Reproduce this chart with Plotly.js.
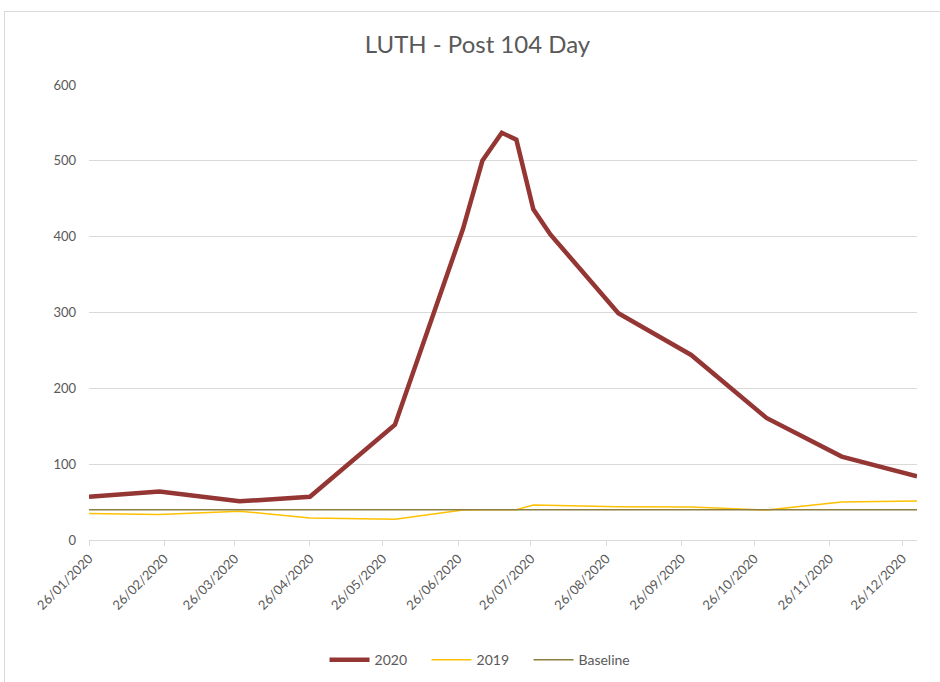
<!DOCTYPE html>
<html>
<head>
<meta charset="utf-8">
<script src="https://cdn.plot.ly/plotly-3.0.1.min.js"></script>
<style>
  html, body { margin: 0; padding: 0; background: #fff; }
  #chart { width: 940px; height: 682px; position: absolute; left: 0; top: 0; }
  #frame { position: absolute; left: 4px; top: 11px; width: 940px; height: 680px; border: 1px solid #D9D9D9; pointer-events: none; }
</style>
</head>
<body>
<div id="chart"></div>
<div id="frame"></div>
<script>
const dates = ['2020-01-26','2020-02-24','2020-03-28','2020-04-26','2020-05-31','2020-06-28','2020-07-06','2020-07-14','2020-07-20','2020-07-27','2020-08-03','2020-08-31','2020-09-30','2020-10-31','2020-12-01','2021-01-01'];
const values2020 = [57, 64, 51, 57, 152, 410, 500, 537, 528, 436, 403, 299, 244, 161, 110, 84];
const values2019 = [35, 33.5, 38, 29, 27.5, 39.5, 40, 40, 40, 46, 45.5, 44, 43.5, 39.5, 50, 51.5];
const baselineValues = [40, 40, 40, 40, 40, 40, 40, 40, 40, 40, 40, 40, 40, 40, 40, 40];
const seriesNames = ['2020', '2019', 'Baseline'];
const yTicks = [0, 100, 200, 300, 400, 500, 600];

const font = 'Lato, "Open Sans", "Liberation Sans", sans-serif';

const traces = [
  { x: dates, y: values2020, name: seriesNames[0], type: 'scatter', mode: 'lines',
    line: { color: '#943634', width: 4.5 } },
  { x: dates, y: values2019, name: seriesNames[1], type: 'scatter', mode: 'lines',
    line: { color: '#FFC000', width: 1.5 } },
  { x: dates, y: baselineValues, name: seriesNames[2], type: 'scatter', mode: 'lines',
    line: { color: '#8C7F3F', width: 1.5 } }
];

const layout = {
  width: 940, height: 682,
  paper_bgcolor: 'rgba(0,0,0,0)', plot_bgcolor: '#fff',
  margin: { l: 89, r: 23, t: 85, b: 142 },
  font: { family: font, color: '#595959', size: 13 },
  title: { text: 'LUTH - Post 104 Day', font: { family: font, size: 24, color: '#595959' },
           x: 0.508, xref: 'container', y: 0.934, yref: 'container', yanchor: 'middle', xanchor: 'center' },
  xaxis: {
    type: 'date', range: ['2020-01-26', '2021-01-01'],
    tick0: '2020-01-26', dtick: 'M1', tickformat: '%d/%m/%Y', tickangle: -45,
    ticks: 'outside', ticklen: 5, tickcolor: '#D9D9D9',
    showline: true, linecolor: '#D9D9D9', linewidth: 1,
    showgrid: false, zeroline: false,
    tickfont: { family: font, size: 13, color: '#595959' }
  },
  yaxis: {
    range: [0, 600], tickvals: yTicks, ticktext: yTicks.map(String),
    showgrid: true, gridcolor: '#D9D9D9', gridwidth: 1,
    zeroline: false, showline: false, ticks: '', ticklabelstandoff: 12,
    tickfont: { family: font, size: 13, color: '#595959' }
  },
  showlegend: true,
  legend: { orientation: 'h', xref: 'container', yref: 'container', x: 0.508, y: 0.032,
            xanchor: 'center', yanchor: 'middle', font: { family: font, size: 14, color: '#595959' },
            itemwidth: 40, entrywidth: 47, entrywidthmode: 'pixels', bgcolor: 'rgba(0,0,0,0)' },
  hovermode: false
};

Plotly.newPlot('chart', traces, layout, { displayModeBar: false, staticPlot: true });
</script>
</body>
</html>
